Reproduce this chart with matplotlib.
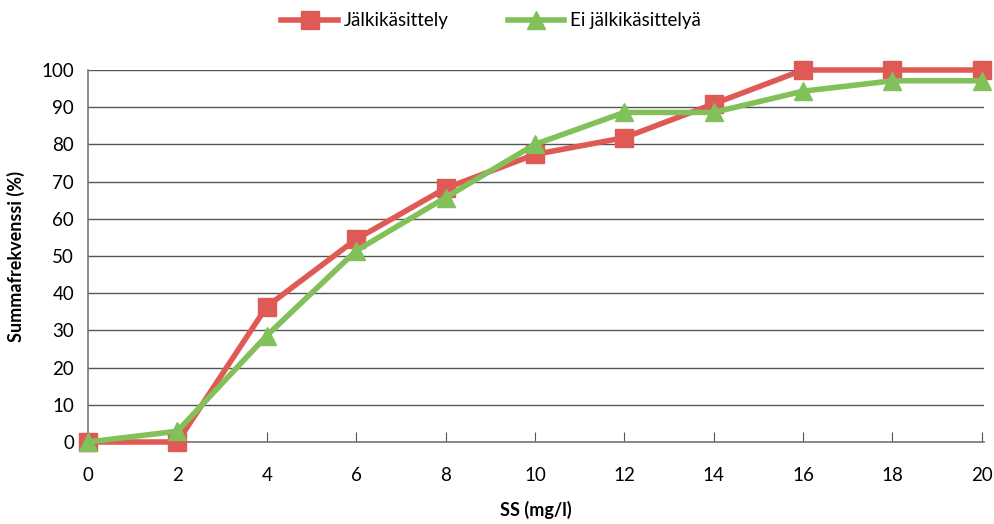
import matplotlib
matplotlib.use("Agg")
import matplotlib.pyplot as plt

plt.rcParams['font.family'] = ['Lato', 'DejaVu Sans']

ss = [0, 2, 4, 6, 8, 10, 12, 14, 16, 18, 20]
jalki = [0, 0, 36.4, 54.5, 68.2, 77.3, 81.8, 90.9, 100, 100, 100]
ei_jalki = [0, 2.9, 28.6, 51.4, 65.7, 80.0, 88.6, 88.6, 94.3, 97.1, 97.1]

red = '#e05a55'
green = '#82c05a'

fig = plt.figure(figsize=(9.95, 5.24), dpi=100)
ax = fig.add_axes([88 / 995, 1 - 442 / 524, (984 - 88) / 995, (442 - 70) / 524])

ax.plot(ss, jalki, color=red, lw=4, marker='s', ms=12.5, label='Jälkikäsittely',
        zorder=3, clip_on=False)
ax.plot(ss, ei_jalki, color=green, lw=4, marker='^', ms=13, label='Ei jälkikäsittelyä',
        zorder=4, clip_on=False)

ax.set_xlim(0, 20.05)
ax.set_ylim(0, 100)
ax.set_xticks(range(0, 21, 2))
ax.set_yticks(range(0, 101, 10))
ax.grid(axis='y', color='#555555', lw=1)
ax.set_axisbelow(True)
for s in ['top', 'right']:
    ax.spines[s].set_visible(False)
for s in ['left', 'bottom']:
    ax.spines[s].set_color('#777777')
    ax.spines[s].set_linewidth(1.2)
ax.tick_params(axis='x', direction='in', length=7, color='#555555', labelsize=13.5, pad=18)
ax.tick_params(axis='y', length=0, labelsize=13.5, pad=10)

ax.set_xlabel('SS (mg/l)', fontsize=13, fontweight='bold', labelpad=12)
ax.set_ylabel('Summafrekvenssi (%)', fontsize=13, fontweight='bold', labelpad=12)

ax.legend(loc='upper center', bbox_to_anchor=(0.45, 1.2), ncol=2, frameon=False,
          fontsize=13.5, handlelength=3, columnspacing=3.2, handletextpad=0.3)

fig.savefig('out.png', dpi=100)
